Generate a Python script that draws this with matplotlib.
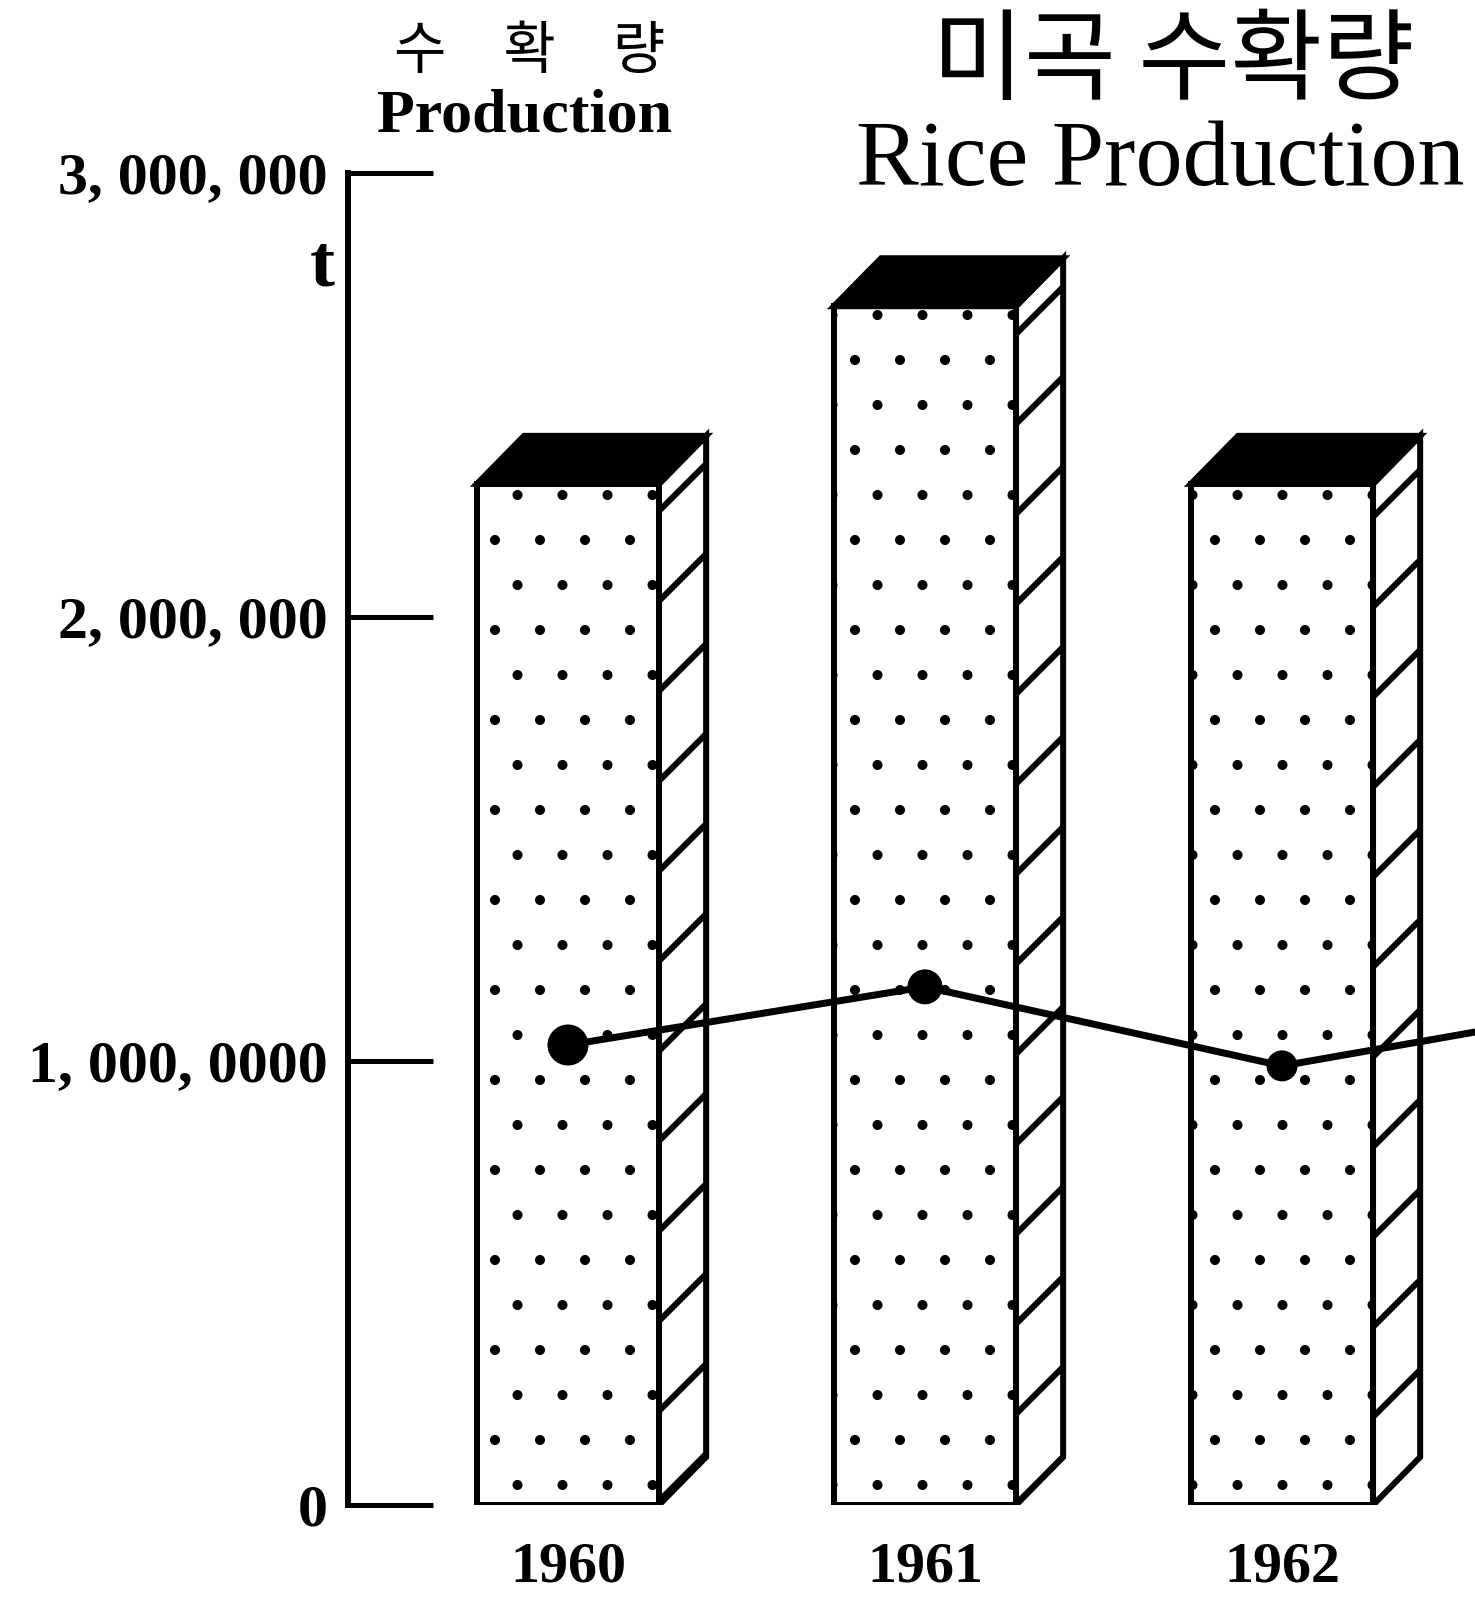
import matplotlib
matplotlib.use("Agg")
import matplotlib.pyplot as plt
from matplotlib.patches import Polygon
import numpy as np

# data
years = ['1960', '1961', '1962']
production = [2300000, 2700000, 2300000]          # bar heights (t)
trend = [1036000, 1167000, 989000, 1130000]       # line, last point runs off the page
ytick_vals = [0, 1000000, 2000000, 3000000]
ytick_labels = ['0', '1, 000, 0000', '2, 000, 000', '3, 000, 000']

DPI = 270
W, H = 1475, 1621


def pt(px):
    # pixel size -> points at this dpi
    return px * 72 / DPI


def fx(x):
    return x / W


def fy(y):
    return 1 - y / H


plt.rcParams['font.family'] = ['Liberation Serif', 'Noto Sans CJK KR']
plt.rcParams['hatch.linewidth'] = pt(5)

fig = plt.figure(figsize=(W / DPI, H / DPI), dpi=DPI)
fig.patch.set_facecolor('white')
ax = fig.add_axes([fx(348), fy(1505), (W - 348) / W, (1505 - 173) / H])

BW = 0.51      # bar width
DX = 0.132     # 3d depth in x units
DY = 108000    # 3d depth in y units
EDGE = pt(6)

x = np.arange(len(years))
bars = ax.bar(x, production, width=BW, color='white', edgecolor='black',
              linewidth=EDGE, hatch='.', zorder=2)
for b in bars:
    if hasattr(b, 'set_hatch_linewidth'):
        b.set_hatch_linewidth(pt(1))

for xi, v in zip(x, production):
    xl, xr = xi - BW / 2, xi + BW / 2
    side = Polygon([(xr, 0), (xr + DX, DY), (xr + DX, v + DY), (xr, v)],
                   closed=True, facecolor='white', edgecolor='black',
                   hatch='/', linewidth=EDGE, zorder=2)
    if hasattr(side, 'set_hatch_linewidth'):
        side.set_hatch_linewidth(pt(6))
    top = Polygon([(xl, v), (xl + DX, v + DY), (xr + DX, v + DY), (xr, v)],
                  closed=True, facecolor='black', edgecolor='black',
                  linewidth=EDGE, zorder=3)
    ax.add_patch(side)
    ax.add_patch(top)

xt = np.arange(len(trend))
ax.plot(xt, trend, color='black', lw=pt(7), zorder=4)
ax.scatter(xt, trend, s=[pt(41) ** 2, pt(35) ** 2, pt(31) ** 2, pt(31) ** 2],
           color='black', zorder=5, linewidths=0)

ax.set_xlim(-0.6162, 2.5406)
ax.set_ylim(0, 3000000)
ax.set_yticks(ytick_vals, ytick_labels)
ax.set_xticks(x, years)
ax.tick_params(axis='y', direction='in', length=pt(85), width=pt(5),
               pad=pt(20), labelsize=pt(60))
ax.tick_params(axis='x', length=0, pad=pt(37), labelsize=pt(58))
for lab in ax.get_yticklabels() + ax.get_xticklabels():
    lab.set_fontweight('bold')
for s in ['top', 'right', 'bottom']:
    ax.spines[s].set_visible(False)
ax.spines['left'].set_linewidth(pt(6))
ax.set_facecolor('white')

# axis unit and labels
fig.text(fx(322), fy(267), 't', fontsize=pt(75), fontweight='bold',
         ha='center', va='center')
fig.text(fx(530), fy(52), '수\u3000확\u3000량', fontsize=pt(57),
         family='Noto Sans CJK KR', fontweight='light',
         ha='center', va='center')
fig.text(fx(525), fy(132), 'Production', fontsize=pt(62), fontweight='bold',
         ha='center', va='baseline')

# title
fig.text(fx(1173), fy(63), '미곡 수확량', fontsize=pt(100),
         family='Noto Sans CJK KR', fontweight='light',
         ha='center', va='center')
fig.text(fx(1160), fy(185), 'Rice Production', fontsize=pt(94),
         ha='center', va='baseline')

fig.savefig('out.png', dpi=DPI, facecolor='white')
